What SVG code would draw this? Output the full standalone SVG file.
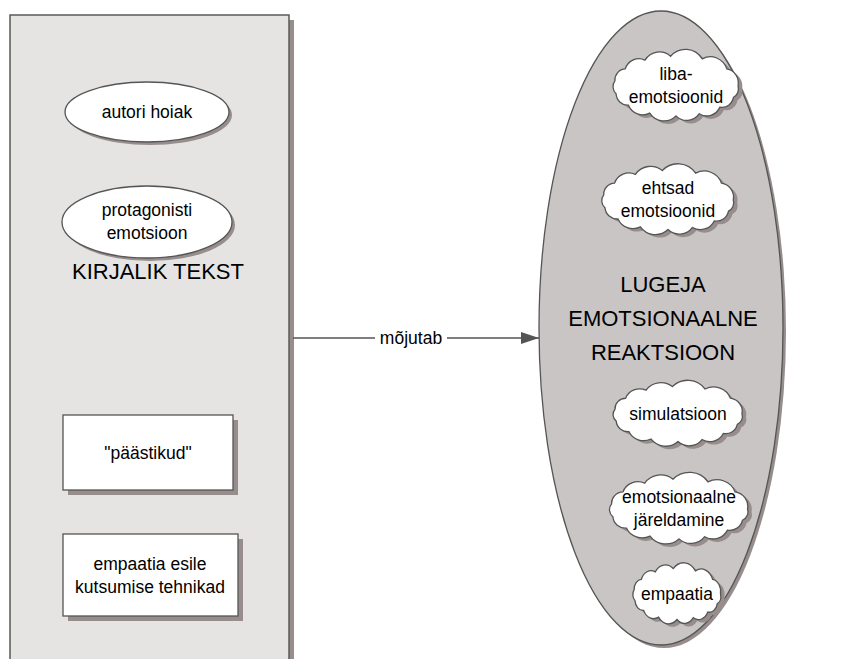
<svg xmlns="http://www.w3.org/2000/svg" xmlns:xlink="http://www.w3.org/1999/xlink" width="842" height="659" viewBox="0 0 842 659">
<style>
text{font-family:"Liberation Sans",Arial,sans-serif;fill:#000;text-anchor:middle}
.s{font-size:17.5px}
.b{font-size:22px}
.shadow{fill:#968d8c;stroke:none}
.node{fill:#fff;stroke:#555;stroke-width:1.3}
.cloud{fill:#fff;stroke:#555;stroke-width:1.3}
.edge{stroke:#555;stroke-width:1.3;fill:none}
</style>
<defs>
<marker id="arr" viewBox="0 0 18 12" refX="18" refY="6" markerWidth="18" markerHeight="12" markerUnits="userSpaceOnUse" orient="auto">
<path d="M0,0 L18,6 L0,12 Z" fill="#555"/>
</marker>
<path id="cloud" vector-effect="non-scaling-stroke" d="M64,0 A9,9 0 0 1 59.3,10.9 A12,12 0 0 1 45.3,20.5 A15,15 0 0 1 24,26.9 A16,16 0 0 1 0,29 A18,18 0 0 1 -27.1,26.3 A16,16 0 0 1 -49,18.6 A12,12 0 0 1 -61.8,7.5 A9,9 0 0 1 -63,-5 A11,11 0 0 1 -52.4,-16.6 A15,15 0 0 1 -32,-25.1 A18,18 0 0 1 -5.6,-28.9 A21,21 0 0 1 27.1,-26.3 A18,18 0 0 1 52.4,-16.6 A14,14 0 0 1 64,0 Z"/>
</defs>

<g id="kirjalik-tekst">
<rect class="shadow" x="15" y="20" width="279" height="660"/>
<rect x="10" y="15" width="279" height="660" fill="#e5e4e3" stroke="#5a5a5a" stroke-width="1.5"/>
<text class="b" x="158" y="279">KIRJALIK TEKST</text>
</g>

<g id="autori-hoiak">
<ellipse class="shadow" cx="150" cy="115" rx="82" ry="30"/>
<ellipse class="node" cx="147" cy="112" rx="82" ry="30"/>
<text class="s" x="147" y="118">autori hoiak</text>
</g>

<g id="protagonisti-emotsioon">
<ellipse class="shadow" cx="150" cy="225" rx="85" ry="36"/>
<ellipse class="node" cx="147" cy="222" rx="85" ry="36"/>
<text class="s" x="147" y="216">protagonisti</text>
<text class="s" x="147" y="239">emotsioon</text>
</g>

<g id="paastikud">
<rect class="shadow" x="68" y="420" width="170" height="75"/>
<rect class="node" x="63" y="415" width="170" height="75"/>
<text class="s" x="148" y="459">"päästikud"</text>
</g>

<g id="empaatia-tehnikad">
<rect class="shadow" x="68" y="539" width="175" height="82"/>
<rect class="node" x="63" y="534" width="175" height="82"/>
<text class="s" x="150" y="570">empaatia esile</text>
<text class="s" x="150" y="593">kutsumise tehnikad</text>
</g>

<g id="lugeja-reaktsioon">
<ellipse class="shadow" cx="664" cy="331" rx="122" ry="317"/>
<ellipse cx="661" cy="328" rx="122" ry="317" fill="#c9c5c4" stroke="#555" stroke-width="1.3"/>
<text class="b" x="663" y="292">LUGEJA</text>
<text class="b" x="663" y="326">EMOTSIONAALNE</text>
<text class="b" x="663" y="360">REAKTSIOON</text>
</g>

<g id="liba-emotsioonid">
<use xlink:href="#cloud" class="shadow" transform="translate(680,89) scale(0.97,1.03)"/>
<use xlink:href="#cloud" class="cloud" transform="translate(676,86) scale(0.97,1.03)"/>
<text class="s" x="676" y="80">liba-</text>
<text class="s" x="676" y="103">emotsioonid</text>
</g>

<g id="ehtsad-emotsioonid">
<use xlink:href="#cloud" class="shadow" transform="translate(672,203) scale(1.02,1.02)"/>
<use xlink:href="#cloud" class="cloud" transform="translate(668,200) scale(1.02,1.02)"/>
<text class="s" x="668" y="194">ehtsad</text>
<text class="s" x="668" y="217">emotsioonid</text>
</g>

<g id="simulatsioon">
<use xlink:href="#cloud" class="shadow" transform="translate(682,417) scale(1.0,0.95)"/>
<use xlink:href="#cloud" class="cloud" transform="translate(678,414) scale(1.0,0.95)"/>
<text class="s" x="678" y="420">simulatsioon</text>
</g>

<g id="emotsionaalne-jareldamine">
<use xlink:href="#cloud" class="shadow" transform="translate(683,512) scale(1.07,1.03)"/>
<use xlink:href="#cloud" class="cloud" transform="translate(679,509) scale(1.07,1.03)"/>
<text class="s" x="679" y="503">emotsionaalne</text>
<text class="s" x="679" y="526">järeldamine</text>
</g>

<g id="empaatia">
<use xlink:href="#cloud" class="shadow" transform="translate(681,597) scale(0.68,0.88)"/>
<use xlink:href="#cloud" class="cloud" transform="translate(677,594) scale(0.68,0.88)"/>
<text class="s" x="677" y="600">empaatia</text>
</g>

<g id="connectors">
<path class="edge" d="M293,338 H375 M447,338 H539" marker-end="url(#arr)"/>
<text class="s" x="411" y="344">mõjutab</text>
</g>
</svg>
